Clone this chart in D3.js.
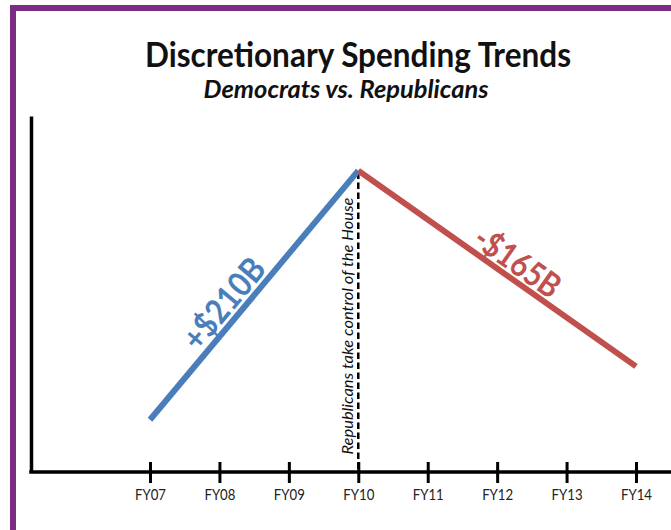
<!DOCTYPE html>
<html>
<head>
<meta charset="utf-8">
<script src="https://cdn.jsdelivr.net/npm/d3@7"></script>
<style>
  html, body { margin: 0; padding: 0; background: #fff; }
  svg { display: block; }
</style>
</head>
<body>
<svg id="chart" width="671" height="530"></svg>
<script>
// ---- data ----
const fiscalYears = ["FY07", "FY08", "FY09", "FY10", "FY11", "FY12", "FY13", "FY14"];
const demYears = ["FY07", "FY10"];
const demValues = [0, 210];          // change in $B relative to FY07
const repYears = ["FY10", "FY14"];
const repValues = [210, 45];         // 210 - 165
const demLabel = "+$210B";
const repLabel = "-$165B";
const eventYear = "FY10";
const eventLabel = "Republicans take control of the House";
const titleText = "Discretionary Spending Trends";
const subtitleText = "Democrats vs. Republicans";

// ---- setup ----
const svg = d3.select("#chart");
const W = 671, H = 530;
const purple = "#7b2c84";
const blue = "#4a7ebb";
const red = "#c0504d";
const font = "Lato, 'Open Sans', sans-serif";

svg.append("rect").attr("width", W).attr("height", H).attr("fill", "#fff");

// frame (top + left purple bars)
svg.append("rect").attr("x", 10).attr("y", 5).attr("width", W - 10).attr("height", 6).attr("fill", purple);
svg.append("rect").attr("x", 10).attr("y", 5).attr("width", 6).attr("height", H - 5).attr("fill", purple);

const axisX = 31;
const x = d3.scalePoint().domain(fiscalYears).range([150, 636]);
const y = d3.scaleLinear().domain([-44, 256]).range([472, 116]);

// title
svg.append("text")
  .attr("x", 358).attr("y", 67)
  .attr("text-anchor", "middle")
  .attr("font-family", font).attr("font-weight", "bold")
  .attr("font-size", 34)
  .attr("textLength", 426).attr("lengthAdjust", "spacingAndGlyphs")
  .attr("fill", "#111")
  .text(titleText);
svg.append("text")
  .attr("x", 346).attr("y", 98)
  .attr("text-anchor", "middle")
  .attr("font-family", font).attr("font-weight", "bold").attr("font-style", "italic")
  .attr("font-size", 24)
  .attr("textLength", 285).attr("lengthAdjust", "spacingAndGlyphs")
  .attr("fill", "#111")
  .text(subtitleText);

// y axis (no ticks)
const yAxis = svg.append("g")
  .attr("transform", `translate(${axisX},0)`)
  .call(d3.axisLeft(y).ticks(0).tickSizeOuter(0));
yAxis.select(".domain").attr("stroke", "#000").attr("stroke-width", 3.5);

// x axis baseline
const baseY = y.range()[0];
svg.append("line")
  .attr("x1", axisX - 1.75).attr("x2", W)
  .attr("y1", baseY).attr("y2", baseY)
  .attr("stroke", "#000").attr("stroke-width", 3.5);

// x axis ticks + labels
const xAxis = svg.append("g")
  .attr("transform", `translate(0,${baseY})`)
  .call(d3.axisBottom(x).tickSize(0).tickPadding(0));
xAxis.select(".domain").remove();
xAxis.selectAll(".tick line")
  .attr("y1", -10).attr("y2", 11)
  .attr("stroke", "#000").attr("stroke-width", 3);
xAxis.selectAll(".tick text")
  .attr("y", 28).attr("dy", 0)
  .attr("font-family", font).attr("font-size", 16)
  .attr("textLength", 31).attr("lengthAdjust", "spacingAndGlyphs")
  .attr("fill", "#222");

// event dashed line
svg.append("line")
  .attr("x1", x(eventYear)).attr("x2", x(eventYear))
  .attr("y1", y(210) + 2).attr("y2", baseY)
  .attr("stroke", "#000").attr("stroke-width", 2.5)
  .attr("stroke-dasharray", "6.5,3.5");

svg.append("text")
  .attr("transform", `translate(${x(eventYear) - 5},${326}) rotate(-90)`)
  .attr("text-anchor", "middle")
  .attr("font-family", font).attr("font-style", "italic")
  .attr("font-size", 15.5)
  .attr("textLength", 257).attr("lengthAdjust", "spacingAndGlyphs")
  .attr("fill", "#111")
  .text(eventLabel);

// lines
const line = d3.line().x(d => x(d[0])).y(d => y(d[1]));
svg.append("path")
  .datum(d3.zip(demYears, demValues))
  .attr("d", line)
  .attr("fill", "none").attr("stroke", blue).attr("stroke-width", 6)
  .attr("stroke-linejoin", "miter");
svg.append("path")
  .datum(d3.zip(repYears, repValues))
  .attr("d", line)
  .attr("fill", "none").attr("stroke", red).attr("stroke-width", 6)
  .attr("stroke-linejoin", "miter");

// slope labels
function slopeLabel(years, values, txt, color, offset, len) {
  const x1 = x(years[0]), y1 = y(values[0]);
  const x2 = x(years[1]), y2 = y(values[1]);
  const rad = Math.atan2(y2 - y1, x2 - x1);
  const ang = rad * 180 / Math.PI;
  const mx = (x1 + x2) / 2, my = (y1 + y2) / 2;
  const nx = Math.sin(rad) * offset.perp, ny = -Math.cos(rad) * offset.perp;
  const tx = mx + nx + Math.cos(rad) * offset.along;
  const ty = my + ny + Math.sin(rad) * offset.along;
  svg.append("text")
    .attr("transform", `translate(${tx},${ty}) rotate(${ang})`)
    .attr("text-anchor", "middle")
    .attr("font-family", font).attr("font-weight", "bold")
    .attr("font-size", 34)
    .attr("textLength", len).attr("lengthAdjust", "spacingAndGlyphs")
    .attr("fill", color)
    .text(txt);
}
slopeLabel(demYears, demValues, demLabel, blue, { perp: 6, along: -26 }, 108);
slopeLabel(repYears, repValues, repLabel, red, { perp: 5, along: 13 }, 97);
</script>
</body>
</html>
